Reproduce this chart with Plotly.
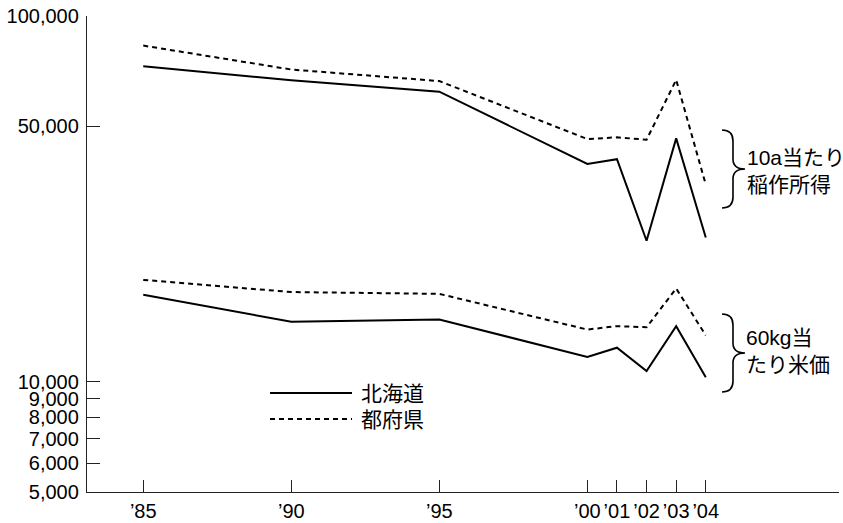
import math
import plotly.graph_objects as go

# Years and tick labels
years = [1985, 1990, 1995, 2000, 2001, 2002, 2003, 2004]
year_labels = ["’85", "’90", "’95", "’00", "’01", "’02", "’03", "’04"]

# 10a当たり稲作所得 (yen)
income_hokkaido = [72900, 66700, 62100, 39400, 40600, 24300, 46300, 24800]
income_others = [83000, 71400, 66400, 46100, 46600, 45900, 66900, 34600]

# 60kg当たり米価 (yen)
price_hokkaido = [17300, 14600, 14800, 11700, 12400, 10700, 14200, 10300]
price_others = [19000, 17600, 17400, 13900, 14200, 14100, 18000, 13400]

# Y axis ticks
y_ticks = [5000, 6000, 7000, 8000, 9000, 10000, 50000, 100000]
y_tick_labels = [f"{v:,}" for v in y_ticks]

W, H = 843, 523
L, R, T, B = 87, 4, 16, 31
PW, PH = W - L - R, H - T - B

LATIN = "Liberation Sans, Arial, Helvetica, sans-serif"
CJK = "Liberation Sans, Noto Sans CJK JP, sans-serif"
DASH = "5px,4px"


def px_x(px):
    return (px - L) / PW


def px_y(py):
    return (H - B - py) / PH


fig = go.Figure()
for y_vals, dash in [(income_hokkaido, "solid"), (income_others, DASH),
                     (price_hokkaido, "solid"), (price_others, DASH)]:
    fig.add_trace(go.Scatter(
        x=years, y=y_vals, mode="lines",
        line=dict(color="black", width=2, dash=dash),
        showlegend=False, hoverinfo="skip",
    ))


def brace_path(top, bottom, x_end=722, x_spine=733, x_tip=745):
    mid = (top + bottom) / 2
    pts = [
        ("M", [(x_end, top)]),
        ("Q", [(x_spine, top), (x_spine, top + 11)]),
        ("L", [(x_spine, mid - 10)]),
        ("Q", [(x_spine, mid), (x_tip, mid)]),
        ("Q", [(x_spine, mid), (x_spine, mid + 10)]),
        ("L", [(x_spine, bottom - 11)]),
        ("Q", [(x_spine, bottom), (x_end, bottom)]),
    ]
    out = []
    for cmd, ps in pts:
        out.append(cmd + " ".join(f"{px_x(x):.5f},{px_y(y):.5f}" for x, y in ps))
    return " ".join(out)


shapes = [
    dict(type="path", xref="paper", yref="paper", path=brace_path(130, 208),
         line=dict(color="black", width=1.6)),
    dict(type="path", xref="paper", yref="paper", path=brace_path(314, 392),
         line=dict(color="black", width=1.6)),
    # legend samples
    dict(type="line", xref="paper", yref="paper",
         x0=px_x(270), x1=px_x(352), y0=px_y(393), y1=px_y(393),
         line=dict(color="black", width=2)),
    dict(type="line", xref="paper", yref="paper",
         x0=px_x(270), x1=px_x(352), y0=px_y(419), y1=px_y(419),
         line=dict(color="black", width=2, dash=DASH)),
]

annotations = [
    dict(text="北海道", x=px_x(359), y=px_y(393), size=21),
    dict(text="都府県", x=px_x(359), y=px_y(419), size=21),
    dict(text="10a当たり<br>稲作所得", x=px_x(745), y=px_y(171), size=21),
    dict(text="60kg当<br>たり米価", x=px_x(744), y=px_y(351), size=21),
]
for a in annotations:
    size = a.pop("size")
    a.update(xref="paper", yref="paper", xanchor="left", yanchor="middle",
             showarrow=False, align="left",
             font=dict(family=CJK, size=size, color="black"))

fig.update_layout(
    width=W, height=H,
    margin=dict(l=L, r=R, t=T, b=B, pad=0, autoexpand=False),
    paper_bgcolor="white", plot_bgcolor="white",
    shapes=shapes, annotations=annotations,
    font=dict(family=LATIN, size=20, color="black"),
    xaxis=dict(
        range=[1983.1, 2008.5], tickvals=years, ticktext=year_labels,
        ticks="inside", ticklen=12, tickwidth=1.2, tickcolor="#222",
        showline=True, linecolor="#222", linewidth=1.3,
        showgrid=False, zeroline=False, ticklabelstandoff=1,
        automargin=False,
        tickfont=dict(family=LATIN, size=20, color="black"),
    ),
    yaxis=dict(
        type="log", range=[math.log10(5000), 5],
        tickvals=y_ticks, ticktext=y_tick_labels,
        ticks="inside", ticklen=13, tickwidth=1.2, tickcolor="#222",
        showline=True, linecolor="#222", linewidth=1.3,
        showgrid=False, zeroline=False, ticklabelstandoff=3,
        automargin=False,
        tickfont=dict(family=LATIN, size=20, color="black"),
    ),
)

fig.write_html("out.html")
